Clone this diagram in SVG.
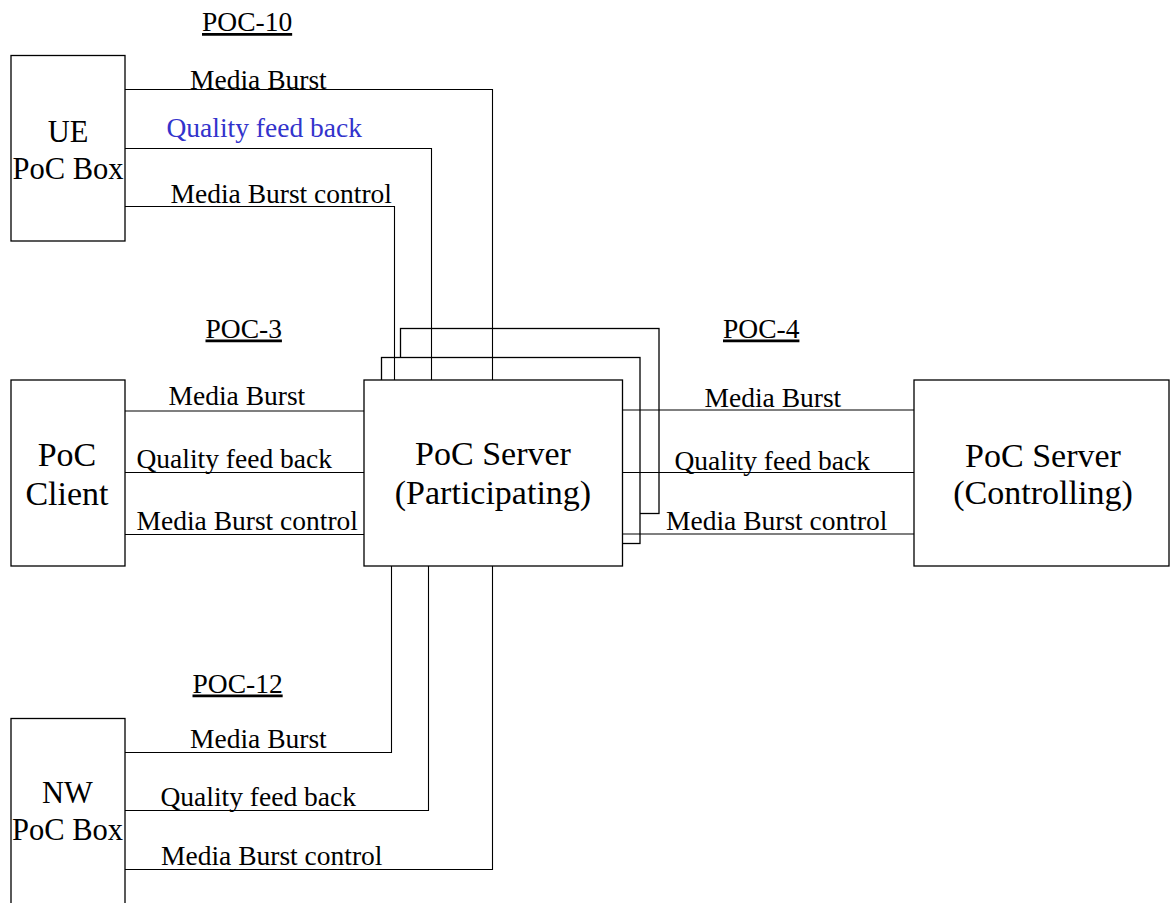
<svg xmlns="http://www.w3.org/2000/svg" width="1170" height="903" viewBox="0 0 1170 903">
<style>
.box{fill:#fff;stroke:#000;stroke-width:1.3}
.ln{fill:none;stroke:#000;stroke-width:1.1}
.lbl{font-family:"Liberation Serif","Times New Roman",serif;font-size:27.5px;fill:#000}
.blue{fill:#3333cc}
.if{font-family:"Liberation Serif","Times New Roman",serif;font-size:27.5px;fill:#000;text-decoration:underline}
.t30{font-family:"Liberation Serif","Times New Roman",serif;font-size:30.5px;fill:#000;text-anchor:middle}
.t34{font-family:"Liberation Serif","Times New Roman",serif;font-size:34px;fill:#000;text-anchor:middle}
</style>
<rect width="1170" height="903" fill="#fff"/>
<g id="ue-poc-box">
<rect class="box" x="11" y="55.5" width="114" height="185.5"/>
<text class="t30" x="68" y="141.5">UE</text>
<text class="t30" x="68" y="178.5">PoC Box</text>
</g>
<g id="poc-client">
<rect class="box" x="11" y="380" width="114" height="186"/>
<text class="t34" x="67" y="465.5">PoC</text>
<text class="t34" x="67" y="505">Client</text>
</g>
<g id="nw-poc-box">
<rect class="box" x="11" y="718.5" width="114" height="200"/>
<text class="t30" x="67.5" y="802.5">NW</text>
<text class="t30" x="67.5" y="839.5">PoC Box</text>
</g>
<g id="poc-server-participating">
<rect class="box" x="400.5" y="328.5" width="258.5" height="185"/>
<rect class="box" x="381.5" y="357.5" width="258.5" height="186"/>
<rect class="box" x="364" y="380" width="258.5" height="186"/>
<text class="t34" x="493" y="465">PoC Server</text>
<text class="t34" x="493" y="503.5">(Participating)</text>
</g>
<g id="poc-server-controlling">
<rect class="box" x="914" y="380" width="255" height="186"/>
<text class="t34" x="1043" y="466.5">PoC Server</text>
<text class="t34" x="1043" y="503.5">(Controlling)</text>
</g>
<g id="connectors">
<path class="ln" d="M125,89.5 H492.5 V380"/>
<path class="ln" d="M125,148.5 H431.5 V380"/>
<path class="ln" d="M125,206.5 H394.5 V380"/>
<path class="ln" d="M125,411 H364"/>
<path class="ln" d="M125,472.5 H364"/>
<path class="ln" d="M125,534.5 H364"/>
<path class="ln" d="M622.5,410 H914"/>
<path class="ln" d="M622.5,472.5 H914"/>
<path class="ln" d="M622.5,534 H914"/>
<path class="ln" d="M125,752.5 H391.5 V566"/>
<path class="ln" d="M125,810.5 H428.5 V566"/>
<path class="ln" d="M125,869.5 H492.5 V566"/>
</g>
<g id="labels">
<text class="if" x="202" y="31">POC-10</text>
<text class="lbl" x="190" y="88.5">Media Burst</text>
<text class="lbl blue" x="166.5" y="136.5">Quality feed back</text>
<text class="lbl" x="170.5" y="202.5">Media Burst control</text>
<text class="if" x="205.5" y="337.5">POC-3</text>
<text class="lbl" x="168.5" y="404.5">Media Burst</text>
<text class="lbl" x="136.5" y="468">Quality feed back</text>
<text class="lbl" x="136.5" y="529.5">Media Burst control</text>
<text class="if" x="723" y="337.5">POC-4</text>
<text class="lbl" x="704.5" y="406.5">Media Burst</text>
<text class="lbl" x="674.5" y="469.5">Quality feed back</text>
<text class="lbl" x="666" y="530">Media Burst control</text>
<text class="if" x="192.5" y="692.5">POC-12</text>
<text class="lbl" x="190" y="747.5">Media Burst</text>
<text class="lbl" x="160.5" y="805.5">Quality feed back</text>
<text class="lbl" x="161" y="865">Media Burst control</text>
</g>
</svg>
